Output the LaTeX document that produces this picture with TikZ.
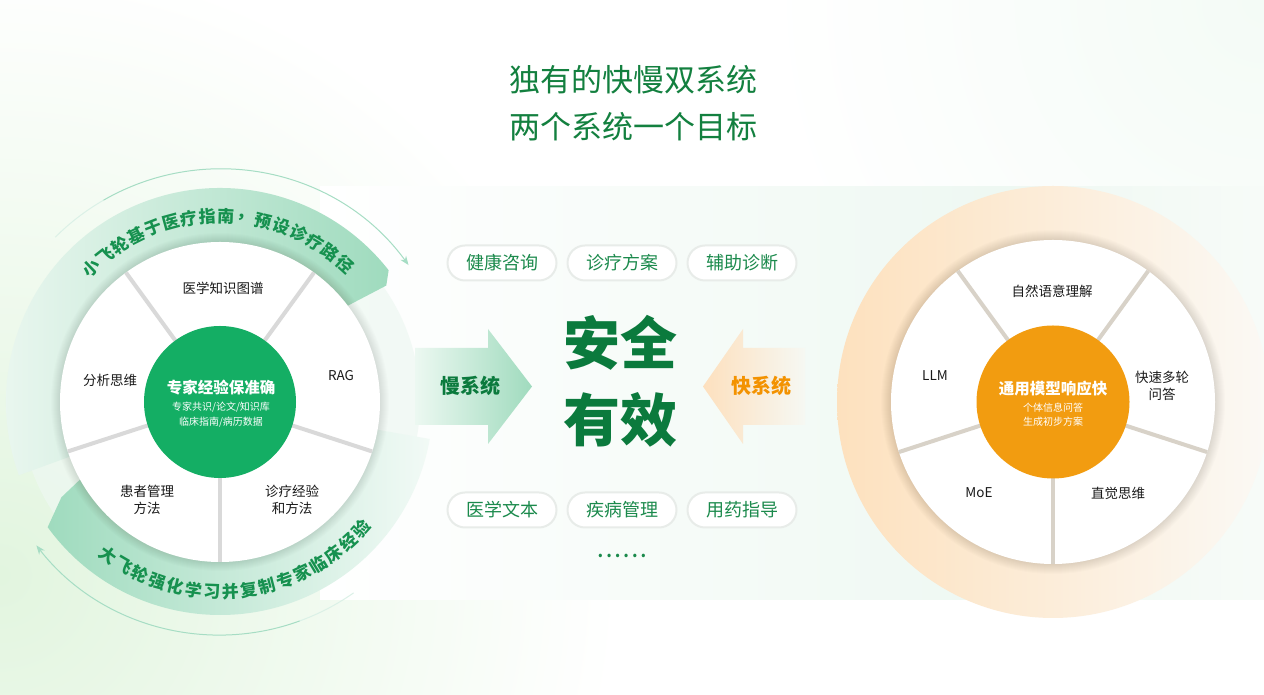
\documentclass[tikz,border=0pt]{standalone}
\usepackage{fontspec}
\newfontfamily\cjk{Noto Sans CJK SC}
\usetikzlibrary{arrows.meta,calc}
\definecolor{titlegreen}{HTML}{13803F}
\definecolor{darkgreen}{HTML}{0B7A3D}
\definecolor{midgreen}{HTML}{14AE64}
\definecolor{textgreen}{HTML}{1B8A4C}
\definecolor{bandgreen}{HTML}{9FDBBE}
\definecolor{bandpale}{HTML}{EEF8F2}
\definecolor{palegreen}{HTML}{E3F4EA}
\definecolor{orangec}{HTML}{F29C10}
\definecolor{orangetext}{HTML}{F39200}
\definecolor{peach}{HTML}{FDE1BE}
\definecolor{peachpale}{HTML}{FBF9F5}
\definecolor{spokeg}{HTML}{D9D9D9}
\definecolor{spokew}{HTML}{D8D2C8}
\definecolor{pillborder}{HTML}{E8ECE9}
\definecolor{labelc}{HTML}{1A1A1A}
\definecolor{arcgreen}{HTML}{A6DDC4}
\definecolor{curvegreen}{HTML}{16914F}
\definecolor{glow}{HTML}{E2F5DF}
\tikzset{
  lbl/.style={font={\cjk\fontsize{13.5}{17}\selectfont}, text=labelc, align=center},
  innerhead/.style={font={\cjk\bfseries\fontsize{15.5}{18}\selectfont}, text=white},
  innersub/.style={font={\cjk\fontsize{10}{12}\selectfont}, text=white},
  pillbox/.style={draw=pillborder, line width=2pt, fill=white, rounded corners=17.5pt,
     minimum width=109pt, minimum height=35pt, font={\cjk\fontsize{18}{20}\selectfont}, text=textgreen},
  curvech/.style={font={\cjk\bfseries\fontsize{17}{17}\selectfont}, text=curvegreen},
  titlet/.style={font={\cjk\fontsize{31}{34}\selectfont}, text=titlegreen},
  bigt/.style={font={\cjk\bfseries\fontsize{57}{60}\selectfont}, text=darkgreen},
  arrowt/.style={font={\cjk\bfseries\fontsize{20}{22}\selectfont}},
  thinarc/.style={arcgreen, line width=1pt, -{Stealth[length=9pt,width=7pt]}},
}
\begin{document}
\begin{tikzpicture}[x=1pt,y=1pt, every node/.style={inner sep=0pt}]
\useasboundingbox (0,0) rectangle (1264,695);
% background
\fill[white] (0,0) rectangle (1264,695);
\begin{scope}
\clip (0,0) rectangle (1264,695);
\shade[inner color=glow, outer color=white] (0,120) circle (620);
\shade[inner color={rgb,255:red,244;green,251;blue,246}, outer color=white] (1264,695) circle (500);
\end{scope}
% middle band
\shade[left color=white, middle color=palegreen, right color={rgb,255:red,238;green,248;blue,242}] (320,95) rectangle (1000,508);
\shade[left color={rgb,255:red,238;green,248;blue,242}, right color={rgb,255:red,247;green,251;blue,248}] (1000,95) rectangle (1264,508);

% ================= LEFT WHEEL =================
\coordinate (L) at (220,293);
\begin{scope}[shift={(L)}]
  \fill[bandpale, opacity=0.7] (0,0) circle (200);
  % top band
  \shade[left color=bandpale, right color=bandgreen]
    (200:150) -- (200:214) arc[start angle=200, end angle=38, radius=214]
    -- (35:203) -- (37:160) -- (37:150) arc[start angle=37, end angle=200, radius=150] -- cycle;
  % bottom band
  \shade[left color=bandgreen, right color={rgb,255:red,242;green,250;blue,246}]
    (208:150) -- (211:185) -- (216:213) arc[start angle=216, end angle=350, radius=213]
    -- (350:150) arc[start angle=350, end angle=208, radius=150] -- cycle;
  % thin arcs
  \draw[arcgreen!40, line width=1pt] (135:233) arc[start angle=135, end angle=120, radius=233];
  \draw[thinarc] (120:233) arc[start angle=120, end angle=36, radius=233];
  \draw[arcgreen!40, line width=1pt] (305:233) arc[start angle=305, end angle=290, radius=233];
  \draw[thinarc] (290:233) arc[start angle=290, end angle=218, radius=233];
  % shadow
  \foreach \i in {1,...,9} \fill[black, opacity=0.011] (0,0) circle (160+\i);
  \fill[white] (0,0) circle (160);
  \foreach \a in {54,126,198,270,342}
    \draw[spokeg, line width=4pt] (\a:74) -- (\a:160);
  \fill[midgreen] (0,0) circle (76);
  % curved texts
  \foreach \c [count=\i] in {小,飞,轮,基,于,医,疗,指,南,，,预,设,诊,疗,路,径}
    \node[curvech, rotate={134-(\i-1)*5.75-90}] (tt\i) at ({134-(\i-1)*5.75}:186) {\c};
  \foreach \c [count=\i] in {大,飞,轮,强,化,学,习,并,复,制,专,家,临,床,经,验}
    \node[curvech, rotate={234+(\i-1)*5.6-270}] (bt\i) at ({234+(\i-1)*5.6}:190) {\c};
\end{scope}
\node[lbl] (l1) at (223,407) {医学知识图谱};
\node[lbl] (l2) at (341,319) {RAG};
\node[lbl] (l3) at (110,315) {分析思维};
\node[lbl] (l4) at (147,195.5) {患者管理\\方法};
\node[lbl] (l5) at (292,195.5) {诊疗经验\\和方法};
\node[innerhead] (lh) at (221,307) {专家经验保准确};
\node[innersub] (ls1) at (221,288) {专家共识/论文/知识库};
\node[innersub] (ls2) at (221,273) {临床指南/病历数据};

% ================= RIGHT WHEEL =================
\coordinate (R) at (1053,293);
\begin{scope}[shift={(R)}]
  \shade[left color=peach, right color=peachpale] (0,0) circle (216);
  \foreach \i in {1,...,10} \fill[black, opacity=0.011] (0,0) circle (162+\i);
  \fill[white] (0,0) circle (162);
  \foreach \a in {54,126,198,270,342}
    \draw[spokew, line width=4pt] (\a:74) -- (\a:162);
  \fill[orangec] (0,0) circle (76.5);
\end{scope}
\node[lbl] (r1) at (1052,404) {自然语意理解};
\node[lbl] (r2) at (935,319) {LLM};
\node[lbl] (r3) at (1162,309) {快速多轮\\问答};
\node[lbl] (r4) at (979,202) {MoE};
\node[lbl] (r5) at (1118,202) {直觉思维};
\node[innerhead] (rh) at (1053,306) {通用模型响应快};
\node[innersub] (rs1) at (1053,287) {个体信息问答};
\node[innersub] (rs2) at (1053,273) {生成初步方案};

% ================= CENTER =================
\node[titlet] (t1) at (633,615) {独有的快慢双系统};
\node[titlet] (t2) at (633,568) {两个系统一个目标};

\node[pillbox] (p1) at (502,432) {健康咨询};
\node[pillbox] (p2) at (622,432) {诊疗方案};
\node[pillbox] (p3) at (742,432) {辅助诊断};
\node[pillbox] (p4) at (502,185) {医学文本};
\node[pillbox] (p5) at (622,185) {疾病管理};
\node[pillbox] (p6) at (742,185) {用药指导};

\node[bigt] (b1) at (620,352) {安全};
\node[bigt] (b2) at (620,275) {有效};

% slow arrow
\shade[left color={rgb,255:red,236;green,248;blue,241}, right color={rgb,255:red,160;green,219;blue,190}]
  (415,347) -- (488,347) -- (488,366) -- (532,308.5) -- (488,251) -- (488,270) -- (415,270) -- cycle;
\node[arrowt, text=darkgreen] (slow) at (470,309) {慢系统};
% fast arrow
\shade[left color={rgb,255:red,253;green,224;blue,190}, right color={rgb,255:red,246;green,248;blue,243}]
  (703,308.5) -- (743,366) -- (743,347) -- (805,347) -- (805,270) -- (743,270) -- (743,251) -- cycle;
\node[arrowt, text=orangetext] (fast) at (761,309) {快系统};

\node[font={\cjk\bfseries\fontsize{16}{16}\selectfont}, text=textgreen] (dots) at (622,139)
  {.\kern3pt.\kern3pt.\kern3pt.\kern3pt.\kern3pt.};
\end{tikzpicture}
\end{document}
